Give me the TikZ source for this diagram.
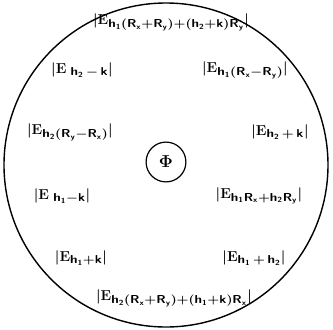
\documentclass[tikz,border=0pt]{standalone}
\usepackage{amsmath}
\usepackage{graphicx}
\usepackage{tikz}
\usetikzlibrary{positioning}
\tikzstyle{refl} = [
    inner sep=0pt,
    font=\fontsize{15}{17}\selectfont\boldmath
]
\tikzstyle{origin} = [
    circle,
    draw,
    line width=1.2pt,
    minimum size=1.4cm,
    font=\fontsize{18}{20}\selectfont\boldmath
]
\newcommand{\Eh}[1]{$\lvert\mathbf{E}_{\scalebox{1.22}[1.05]{$\scriptstyle\mathsf{#1}$}}\rvert$}
\begin{document}
\begin{tikzpicture}[x=1pt, y=-1pt]
        \useasboundingbox (0,0) rectangle (333,330);
        % Outer circle
        \draw[line width=1.4pt] (166,165) circle (162);

        % Origin
        \node[origin] (phi) at (166,162) {$\Phi$};

        % Reflections
        \node[refl] (top) at (171,22) {\Eh{h_1(R_x+R_y)+(h_2+k)R_y}};
        \node[refl] (hmk) at (82,70) {\Eh{\;h_2\,-\,k}};
        \node[refl] (hrd) at (245,70) {\Eh{h_1(R_x-R_y)}};
        \node[refl] (hrl) at (70,132) {\Eh{h_2(R_y-R_x)}};
        \node[refl] (hpk) at (280,132) {\Eh{h_2\,+\,k}};
        \node[refl] (lmk) at (62,196) {\Eh{\;h_1-k}};
        \node[refl] (lrr) at (259,196) {\Eh{h_1R_x+h_2R_y}};
        \node[refl] (lpk) at (81,258) {\Eh{h_1+k}};
        \node[refl] (hph) at (254,258) {\Eh{h_1\,+\,h_2}};
        \node[refl] (bot) at (174,298) {\Eh{h_2(R_x+R_y)+(h_1+k)R_x}};
    \end{tikzpicture}
\end{document}
